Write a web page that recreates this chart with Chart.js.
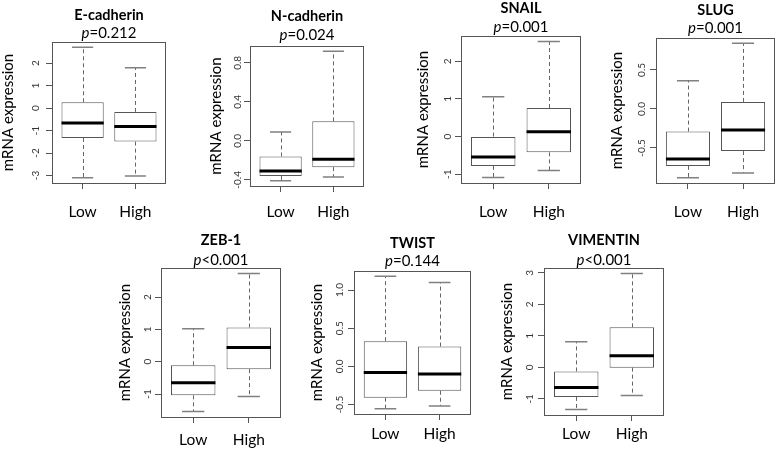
<!DOCTYPE html>
<html>
<head>
<meta charset="utf-8">
<script src="https://cdn.jsdelivr.net/npm/chart.js@4.4.1/dist/chart.umd.min.js"></script>
<style>
  html, body { margin: 0; padding: 0; background: #fff; }
  #wrap { position: relative; width: 777px; height: 450px; overflow: hidden; }
  #wrap canvas { position: absolute; }
</style>
</head>
<body>
<div id="wrap"></div>
<script>
// data: [min, q1, median, q3, max] per group
const genes = ['E-cadherin', 'N-cadherin', 'SNAIL', 'SLUG', 'ZEB-1', 'TWIST', 'VIMENTIN'];
const pValues = ['=0.212', '=0.024', '=0.001', '=0.001', '<0.001', '=0.144', '<0.001'];
const groups = ['Low', 'High'];

const lowStats = [
  [-3.10, -1.33, -0.66, 0.26, 2.71],
  [-0.41, -0.36, -0.31, -0.16, 0.09],
  [-1.09, -0.78, -0.54, 0.00, 1.06],
  [-0.88, -0.73, -0.64, -0.29, 0.36],
  [-1.54, -1.04, -0.65, -0.11, 1.02],
  [-0.555, -0.41, -0.08, 0.33, 1.18],
  [-1.34, -0.94, -0.64, -0.13, 0.81],
];
const highStats = [
  [-3.02, -1.49, -0.82, -0.17, 1.80],
  [-0.37, -0.27, -0.19, 0.20, 0.92],
  [-0.90, -0.42, 0.13, 0.76, 2.53],
  [-0.82, -0.54, -0.27, 0.09, 0.84],
  [-1.08, -0.23, 0.44, 1.06, 2.73],
  [-0.52, -0.32, -0.10, 0.26, 1.10],
  [-0.89, -0.01, 0.37, 1.27, 2.98],
];
const yTicks = [
  [-3, -2, -1, 0, 1, 2],
  [-0.4, 0, 0.4, 0.8],
  [-1, 0, 1, 2],
  [-0.5, 0, 0.5],
  [-1, 0, 1, 2],
  [-0.5, 0, 0.5, 1],
  [-1, 0, 1, 2, 3],
];

// page layout of each panel: plot frame [left, top, right, bottom] and text positions
const frames = [
  [52, 42, 166, 183], [250, 46, 364, 186], [461, 36, 581, 183], [656, 38, 775, 183],
  [161, 268, 281, 417], [354, 271, 471, 414], [544, 268, 664, 415],
];
const geneY = [15, 16, 8.5, 10, 240, 243, 240.5];
const pY = [33, 35.5, 27, 28, 260, 261.5, 260];
const yTitleX = [8, 216, 423, 617, 125, 317, 507];
const yLabelX = [36, 238, 448, 642, 148, 340, 530];
const xLabelY = [212, 212, 212, 212, 440, 434, 434];

const FONT = 'Lato, "Liberation Sans", sans-serif';
const TICK_LEN = 6;
const BOX_HALF = 0.4;   // R boxwex 0.8
const CAP_HALF = 0.2;   // staplewex 0.5

function fmt(v, ticks) {
  const dec = ticks.some(t => !Number.isInteger(t)) ? 1 : 0;
  return v.toFixed(dec);
}

function panelPlugin(i, left, top) {
  return {
    id: 'rbox' + i,
    afterDatasetsDraw(chart) {
      const { ctx, chartArea: a, scales: { x, y } } = chart;
      ctx.save();
      [lowStats[i], highStats[i]].forEach((s, g) => {
        const cx = x.getPixelForValue(g + 1);
        const bw = x.getPixelForValue(g + 1 + BOX_HALF) - cx;
        const cw = x.getPixelForValue(g + 1 + CAP_HALF) - cx;
        const [mn, q1, md, q3, mx] = s.map(v => y.getPixelForValue(v));
        // whiskers
        ctx.strokeStyle = '#666';
        ctx.lineWidth = 1;
        ctx.setLineDash([4, 3]);
        ctx.beginPath();
        ctx.moveTo(Math.round(cx) + 0.5, q3); ctx.lineTo(Math.round(cx) + 0.5, mx);
        ctx.moveTo(Math.round(cx) + 0.5, q1); ctx.lineTo(Math.round(cx) + 0.5, mn);
        ctx.stroke();
        // staples
        ctx.setLineDash([]);
        ctx.strokeStyle = '#808080';
        ctx.lineWidth = 1.5;
        ctx.beginPath();
        ctx.moveTo(cx - cw, mx); ctx.lineTo(cx + cw, mx);
        ctx.moveTo(cx - cw, mn); ctx.lineTo(cx + cw, mn);
        ctx.stroke();
        // median
        ctx.strokeStyle = '#000';
        ctx.lineWidth = 3;
        ctx.beginPath();
        ctx.moveTo(cx - bw, md); ctx.lineTo(cx + bw, md);
        ctx.stroke();
      });
      // plot frame
      ctx.strokeStyle = '#555';
      ctx.lineWidth = 1;
      ctx.strokeRect(Math.round(a.left) + 0.5, Math.round(a.top) + 0.5,
        Math.round(a.right - a.left) - 1, Math.round(a.bottom - a.top));
      ctx.restore();
    },
    afterDraw(chart) {
      const { ctx, chartArea: a, scales: { y } } = chart;
      const midX = (a.left + a.right) / 2;
      const midY = (a.top + a.bottom) / 2;
      ctx.save();
      ctx.fillStyle = '#000';
      ctx.textBaseline = 'middle';
      // gene name
      ctx.textAlign = 'center';
      ctx.font = 'bold 14.5px ' + FONT;
      ctx.fillText(genes[i], midX, geneY[i] - top);
      // p value with italic p
      const fi = 'italic 15px ' + FONT, fn = '15px ' + FONT;
      ctx.font = fi; const w1 = ctx.measureText('p').width;
      ctx.font = fn; const w2 = ctx.measureText(pValues[i]).width;
      const x0 = midX - (w1 + w2) / 2;
      ctx.textAlign = 'left';
      ctx.font = fi; ctx.fillText('p', x0, pY[i] - top);
      ctx.font = fn; ctx.fillText(pValues[i], x0 + w1, pY[i] - top);
      // y axis title
      ctx.save();
      ctx.translate(yTitleX[i] - left, midY);
      ctx.rotate(-Math.PI / 2);
      ctx.textAlign = 'center';
      ctx.font = '15px ' + FONT;
      ctx.fillText('mRNA expression', 0, 0);
      ctx.restore();
      // y tick labels, rotated as in R
      ctx.font = '10px ' + FONT;
      ctx.fillStyle = '#333';
      ctx.textAlign = 'center';
      y.ticks.forEach(t => {
        ctx.save();
        ctx.translate(yLabelX[i] - left, y.getPixelForValue(t.value));
        ctx.rotate(-Math.PI / 2);
        ctx.fillText(fmt(t.value, yTicks[i]), 0, 0);
        ctx.restore();
      });
      ctx.restore();
    }
  };
}

const wrap = document.getElementById('wrap');

genes.forEach((gene, i) => {
  const [fl, ft, fr, fb] = frames[i];
  const left = fl - 60;
  const top = i < 4 ? 0 : 225;
  const width = fr - left + 6;
  const height = 225;

  const canvas = document.createElement('canvas');
  canvas.width = width;
  canvas.height = height;
  canvas.style.left = left + 'px';
  canvas.style.top = top + 'px';
  wrap.appendChild(canvas);

  const all = lowStats[i].concat(highStats[i]);
  const lo = Math.min(...all), hi = Math.max(...all);
  const pad = 0.04 * (hi - lo);
  const xGap = xLabelY[i] - fb - TICK_LEN - 9;

  new Chart(canvas, {
    type: 'bar',
    data: {
      datasets: [{
        data: [lowStats[i], highStats[i]].map((s, g) => ({ x: g + 1, y: [s[1], s[3]] })),
        backgroundColor: '#fff',
        borderColor: '#555',
        borderWidth: 1,
        borderSkipped: false,
        barPercentage: 1,
        categoryPercentage: 0.8,
      }],
    },
    options: {
      responsive: false,
      animation: false,
      events: [],
      layout: { padding: { left: 0, top: ft - top, right: left + width - fr, bottom: 0 } },
      plugins: { legend: { display: false }, tooltip: { enabled: false }, title: { display: false } },
      scales: {
        x: {
          type: 'linear',
          min: 0.42,
          max: 2.58,
          offset: false,
          grid: { drawOnChartArea: false, drawTicks: true, tickLength: TICK_LEN, color: '#555', offset: false },
          border: { display: false },
          afterBuildTicks: s => { s.ticks = groups.map((g, k) => ({ value: k + 1 })); },
          afterFit: s => { s.height = top + height - fb; },
          ticks: {
            autoSkip: false,
            maxRotation: 0,
            padding: xGap,
            color: '#000',
            font: { family: FONT, size: 15.5 },
            callback: v => groups[v - 1],
          },
        },
        y: {
          type: 'linear',
          min: lo - pad,
          max: hi + pad,
          beginAtZero: false,
          grid: { drawOnChartArea: false, drawTicks: true, tickLength: TICK_LEN, color: '#555' },
          border: { display: false },
          afterBuildTicks: s => { s.ticks = yTicks[i].map(v => ({ value: v })); },
          afterFit: s => { s.width = fl - left; },
          ticks: { display: false },
        },
      },
    },
    plugins: [panelPlugin(i, left, top)],
  });
});
</script>
</body>
</html>
